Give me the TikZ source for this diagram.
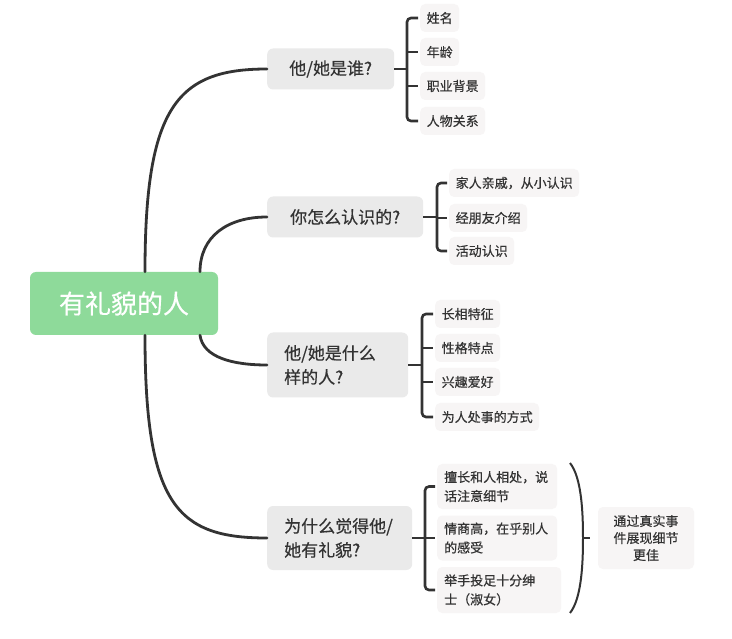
\documentclass[tikz,border=0pt]{standalone}
\usepackage{fontspec}
\setmainfont{Noto Sans CJK SC}[FakeBold=0.5]
\definecolor{linec}{HTML}{333333}
\definecolor{textc}{HTML}{333333}
\definecolor{branchc}{HTML}{EAEAEA}
\definecolor{leafc}{HTML}{F7F5F5}
\definecolor{rootc}{HTML}{8EDA9A}
\begin{document}
\begin{tikzpicture}[x=1pt,y=-1pt,
  conn/.style={draw=linec, line width=2.8pt, line cap=round},
  brk/.style={draw=linec, line width=2.6pt, rounded corners=4pt},
  paren/.style={draw=linec, line width=2pt},
  rootbox/.style={fill=rootc, rounded corners=6pt, text=white, font=\fontsize{26}{30}\selectfont, minimum width=188pt, minimum height=63pt, inner sep=0pt},
  branch/.style={fill=branchc, rounded corners=6pt, text=textc, font=\fontsize{17}{24}\selectfont, anchor=west, inner sep=0pt, align=left},
  leaf/.style={fill=leafc, rounded corners=5pt, text=textc, font=\fontsize{13}{19}\selectfont, anchor=west, inner xsep=6.5pt, inner ysep=0pt, minimum height=28pt, align=left},
]
\useasboundingbox (0,0) rectangle (732,639);
\fill[white] (0,0) rectangle (732,639);

% root and branches
\node[rootbox] (root) at (124,303.5) {有礼貌的人};
\node[branch, minimum width=127pt, minimum height=41pt] (b1) at (267,69) {他/她是谁?};
\node[branch, minimum width=156pt, minimum height=41pt] (b2) at (267,217) {你怎么认识的?};
\node[branch, minimum width=141pt, minimum height=65pt, text width=107pt] (b3) at (267,365) {他/她是什么\\样的人?};
\node[branch, minimum width=145pt, minimum height=64pt, text width=111pt] (b4) at (267,538) {为什么觉得他/\\她有礼貌?};

% leaves
\node[leaf] (l11) at (420,18) {姓名};
\node[leaf] (l12) at (420,52) {年龄};
\node[leaf] (l13) at (420,86) {职业背景};
\node[leaf] (l14) at (420,121) {人物关系};

\node[leaf] (l21) at (449,183) {家人亲戚，从小认识};
\node[leaf] (l22) at (449,218) {经朋友介绍};
\node[leaf] (l23) at (449,251) {活动认识};

\node[leaf] (l31) at (435,314) {长相特征};
\node[leaf] (l32) at (435,348) {性格特点};
\node[leaf] (l33) at (435,382) {兴趣爱好};
\node[leaf] (l34) at (435,417) {为人处事的方式};

\node[leaf, minimum width=120pt, minimum height=45pt, text width=106pt] (l41) at (437,486.5) {擅长和人相处，说\\话注意细节};
\node[leaf, minimum width=120pt, minimum height=45pt, text width=106pt] (l42) at (437,538) {情商高，在乎别人\\的感受};
\node[leaf, minimum width=124pt, minimum height=46pt, text width=110pt] (l43) at (437,590) {举手投足十分绅\\士（淑女）};

\node[leaf, anchor=center, minimum width=96pt, minimum height=62pt, align=center, font=\fontsize{13}{17}\selectfont] (sum) at (646,538) {通过真实事\\件展现细节\\更佳};

% main curves
\draw[conn] ([xshift=21pt]root.north) .. controls +(0,-165) and +(-90,0) .. (b1.west);
\draw[conn] ([xshift=76pt]root.north) .. controls +(0,-35) and +(-40,0) .. (b2.west);
\draw[conn] ([xshift=76pt]root.south) .. controls +(3,22) and +(-35,0) .. (b3.west);
\draw[conn] ([xshift=21pt]root.south) .. controls +(0,170) and +(-90,0) .. (b4.west);

% brackets
\coordinate (k1) at (407,69);
\draw[brk] (b1.east) -- (k1);
\draw[brk] ([xshift=-2pt]l11.west) -- (l11.west -| k1) -- (l14.west -| k1) -- ([xshift=-2pt]l14.west);
\draw[brk] (k1 |- l12.west) -- ([xshift=-2pt]l12.west);
\draw[brk] (k1 |- l13.west) -- ([xshift=-2pt]l13.west);

\coordinate (k2) at (437,217);
\draw[brk] (b2.east) -- (k2);
\draw[brk] ([xshift=-2pt]l21.west) -- (l21.west -| k2) -- (l23.west -| k2) -- ([xshift=-2pt]l23.west);
\draw[brk] (k2 |- l22.west) -- ([xshift=-2pt]l22.west);

\coordinate (k3) at (422,365);
\draw[brk] (b3.east) -- (k3);
\draw[brk] ([xshift=-2pt]l31.west) -- (l31.west -| k3) -- (l34.west -| k3) -- ([xshift=-2pt]l34.west);
\draw[brk] (k3 |- l32.west) -- ([xshift=-2pt]l32.west);
\draw[brk] (k3 |- l33.west) -- ([xshift=-2pt]l33.west);

\coordinate (k4) at (425,538);
\draw[brk] (b4.east) -- ([xshift=-2pt]l42.west);
\draw[brk] ([xshift=-2pt]l41.west) -- (l41.west -| k4) -- (l43.west -| k4) -- ([xshift=-2pt]l43.west);

% summary parenthesis
\coordinate (p1) at (570,463);
\coordinate (p2) at (583,538);
\coordinate (p3) at (570,613);
\draw[paren] (p1) .. controls (582,478) and (583,515) .. (p2) .. controls (583,561) and (582,598) .. (p3);
\draw[paren] (p2) -- ([xshift=-8pt]sum.west);
\end{tikzpicture}
\end{document}
